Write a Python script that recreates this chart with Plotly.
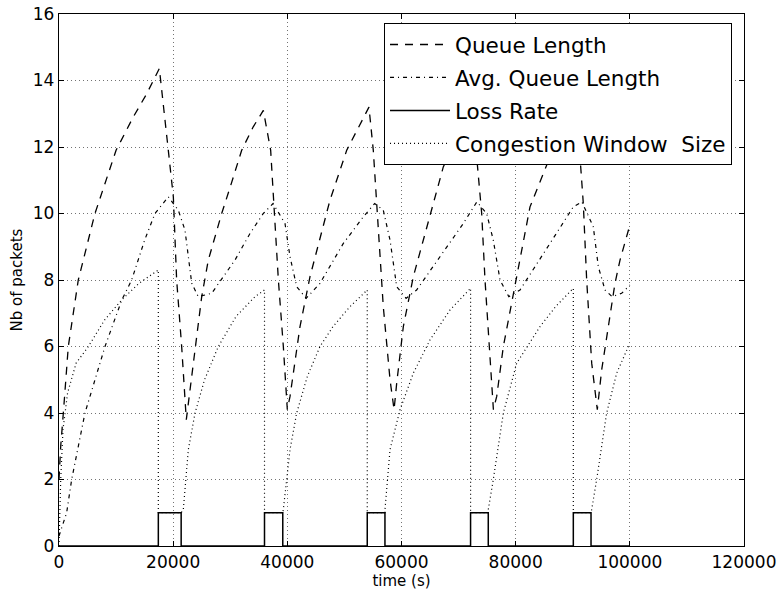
import plotly.graph_objects as go

# ---- data ----
queue_x = [0, 300, 760, 1630, 3380, 6300, 10000, 13000, 15360, 17580,
           19150, 20030, 20610, 21490, 22300,
           25000, 26160, 28500, 30000, 32000, 34000, 35800,
           37080, 37550, 38430, 39300, 40000,
           40470, 42220, 43970, 47470, 50400, 52500, 54300,
           55060, 55930, 56810, 57990, 58700,
           59160, 60320, 62070, 65000, 67320, 70000, 72100,
           73170, 74050, 74630, 75510, 76100,
           76680, 77840, 80180, 82510, 86010, 88200, 90000,
           91270, 91850, 92440, 93320, 94300,
           95070, 96530, 97400, 98280, 99740, 100000]
queue_y = [2.0, 3.0, 4.0, 6.0, 8.0, 10.0, 11.9, 12.9, 13.6, 14.36,
           11.9, 10.5, 8.0, 6.0, 3.8,
           7.5, 8.6, 10.0, 10.8, 11.9, 12.6, 13.1,
           11.9, 10.6, 8.0, 6.0, 4.1,
           4.5, 6.6, 8.1, 10.4, 11.9, 12.6, 13.2,
           11.9, 9.4, 7.2, 5.0, 4.1,
           4.9, 6.6, 8.1, 9.9, 11.4, 12.4, 13.1,
           11.7, 10.0, 8.0, 5.5, 4.1,
           4.5, 6.0, 8.1, 10.2, 11.7, 12.5, 13.1,
           11.7, 10.3, 8.0, 5.5, 4.1,
           5.3, 6.9, 7.9, 8.6, 9.5, 9.65]

avg_x = [0, 600, 1340, 2220, 4550, 8060, 11000, 12730, 15000, 16820, 19150,
         20900, 22070, 23250, 24400,
         26750, 30830, 33460, 35790, 37500,
         39590, 40470, 41640, 43300,
         45720, 49810, 53310, 55300,
         56810, 57990, 59160, 60800,
         62650, 66740, 70830, 73200,
         74920, 76080, 77260, 78800,
         80760, 86010, 90100, 91600,
         93600, 94480, 95650, 96900,
         98570, 99740, 100000]
avg_y = [0.3, 0.6, 1.0, 2.0, 4.0, 6.0, 7.4, 8.0, 9.2, 10.0, 10.5,
         10.1, 9.5, 7.9, 7.5,
         7.6, 8.6, 9.4, 10.0, 10.3,
         9.7, 8.7, 7.8, 7.45,
         7.9, 9.1, 9.9, 10.3,
         10.1, 9.2, 7.8, 7.45,
         7.7, 8.7, 9.7, 10.35,
         10.0, 9.2, 8.0, 7.5,
         7.7, 9.1, 10.2, 10.35,
         9.6, 8.4, 7.7, 7.5,
         7.6, 7.8, 7.85]

loss_x = [0, 17400, 21400, 36000, 39200, 54000, 57100, 72100, 75200, 90100, 93200, 100000]
loss_y = [0, 1, 0, 1, 0, 1, 0, 1, 0, 1, 0, 0]

cwnd_x = [0, 150, 300, 700, 1500, 3000, 5140, 8000, 10980, 14000, 17400,
          17400, 21400,
          21780, 22660, 23830, 25500, 27910, 31000, 34340, 36000,
          36000, 39200,
          39300, 40470, 41640, 43500, 45720, 48000, 50980, 54000,
          54000, 57100,
          57110, 57990, 59740, 62070, 65000, 68500, 72100,
          72100, 75200,
          75210, 76080, 77840, 80180, 84270, 87000, 90100,
          90100, 93200,
          93320, 94190, 95940, 97700, 99740, 100000]
cwnd_y = [0.0, 1.2, 2.0, 3.5, 4.6, 5.5, 6.0, 6.8, 7.4, 7.9, 8.3,
          1.0, 1.0,
          1.1, 2.9, 4.0, 5.0, 6.0, 6.9, 7.5, 7.7,
          1.0, 1.0,
          1.1, 2.9, 4.0, 5.1, 6.0, 6.6, 7.2, 7.7,
          1.0, 1.0,
          1.1, 2.9, 4.1, 5.2, 6.2, 7.1, 7.75,
          1.0, 1.0,
          1.1, 2.0, 4.0, 5.5, 6.6, 7.2, 7.75,
          1.0, 1.0,
          1.1, 2.0, 4.0, 5.2, 6.0, 6.05]

x_ticks = [0, 20000, 40000, 60000, 80000, 100000, 120000]
x_labels = ["0", "20000", "40000", "60000", "80000", "100000", "120000"]
y_ticks = [0, 2, 4, 6, 8, 10, 12, 14, 16]
y_labels = ["0", "2", "4", "6", "8", "10", "12", "14", "16"]

FONT = "DejaVu Sans"

fig = go.Figure()
fig.add_trace(go.Scatter(x=queue_x, y=queue_y, mode="lines", name="Queue Length",
                         legendgroup="a",
                         line=dict(color="black", width=1.3, dash="8px,7px")))
fig.add_trace(go.Scatter(x=avg_x, y=avg_y, mode="lines", name="Avg. Queue Length",
                         legendgroup="b",
                         line=dict(color="black", width=1.2, dash="4px,4px,1px,4px")))
fig.add_trace(go.Scatter(x=loss_x, y=loss_y, mode="lines", name="Loss Rate",
                         legendgroup="c", line_shape="hv",
                         line=dict(color="black", width=1.5)))
fig.add_trace(go.Scatter(x=cwnd_x, y=cwnd_y, mode="lines", name="Congestion Window  Size",
                         legendgroup="d",
                         line=dict(color="black", width=1.2, dash="1px,3px")))

axis_common = dict(
    showline=True, linecolor="black", linewidth=1.3, mirror="allticks",
    ticks="inside", ticklen=5, tickcolor="black", tickwidth=1,
    showgrid=True, gridcolor="rgba(0,0,0,0.55)", gridwidth=1, griddash="1px,3px",
    zeroline=False, automargin=False, ticklabeloverflow="allow",
    tickfont=dict(family=FONT, size=17, color="black"),
)

fig.update_layout(
    width=780, height=593,
    margin=dict(l=59, r=36, t=14, b=47),
    paper_bgcolor="white", plot_bgcolor="white",
    font=dict(family=FONT, size=16, color="black"),
    showlegend=True,
    legend=dict(x=0.9825, y=0.983, xanchor="right", yanchor="top",
                bgcolor="white", bordercolor="black", borderwidth=1,
                font=dict(family=FONT, size=21.5, color="black"),
                tracegroupgap=2, itemwidth=60),
    xaxis=dict(range=[0, 120000], tickvals=x_ticks, ticktext=x_labels,
               title=dict(text="time (s)", standoff=4,
                          font=dict(family=FONT, size=15, color="black")),
               **axis_common),
    yaxis=dict(range=[0, 16], tickvals=y_ticks, ticktext=y_labels,
               title=dict(text="Nb of packets", standoff=6,
                          font=dict(family=FONT, size=15, color="black")),
               **axis_common),
)

fig.write_html("out.html", config={"displayModeBar": False},
               post_script="document.body.style.margin='0px';document.body.style.padding='0px';")
